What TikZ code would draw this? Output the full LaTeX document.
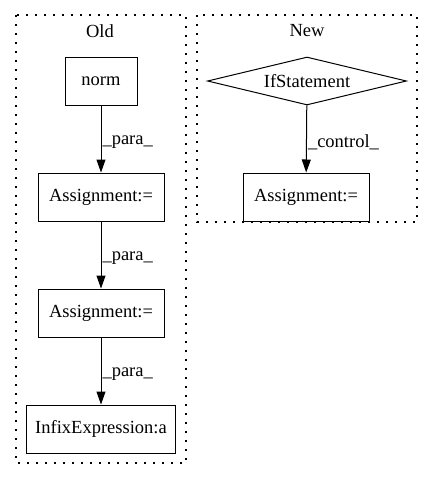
\documentclass[tikz,border=0pt]{standalone}
\usepackage{fontspec}
\setmainfont{Liberation Serif}
\usetikzlibrary{shapes.geometric,arrows.meta}
\newcommand{\gvfont}{\fontsize{18.5}{22}\selectfont}

\begin{document}
\begin{tikzpicture}[x=1pt,y=-1pt]
	\tikzstyle{stmt}=[rectangle,draw,line width=1pt,minimum height=48pt,font=\gvfont]
	\tikzstyle{cond}=[diamond,draw,line width=1pt,aspect=4.15,minimum width=199pt,minimum height=48pt,inner sep=0pt,font=\gvfont]
	\tikzstyle{cluster}=[draw=black,line width=1.3pt,dash pattern=on 1.6pt off 7.4pt]
	\tikzstyle{flow}=[-{Triangle[length=13pt,width=9pt]},line width=1pt]
	\tikzstyle{lbl}=[right,inner sep=1pt,yshift=-3pt,font=\gvfont]

	\useasboundingbox (0,0) rectangle (432,480);
	\draw [cluster] (16,15) rectangle (186,463);
	\draw [cluster] (197,15) rectangle (417,222);
	\node [font=\gvfont] (old) at (100,31) {Old};
	\node [font=\gvfont] (new) at (307,31) {New};

	\node [stmt,minimum width=72pt] (norm) at (101,81) {norm};
	\node [stmt,minimum width=126pt] (asg_a) at (101,197) {Assignment:=};
	\node [stmt,minimum width=126pt] (asg_b) at (101,313) {Assignment:=};
	\node [stmt,minimum width=149pt] (infix) at (101,429) {InfixExpression:a};

	\node [cond] (ifstmt) at (307,81) {IfStatement};
	\node [stmt,minimum width=126pt] (asg_new) at (306,197) {Assignment:=};

	\foreach \source/\dest in
	{norm/asg_a,asg_a/asg_b,asg_b/infix}
	  \draw [flow](\source) to node[lbl] {\_para\_} (\dest);

	\draw [flow](ifstmt) to node[lbl] {\_control\_} (asg_new);
\end{tikzpicture}
\end{document}
